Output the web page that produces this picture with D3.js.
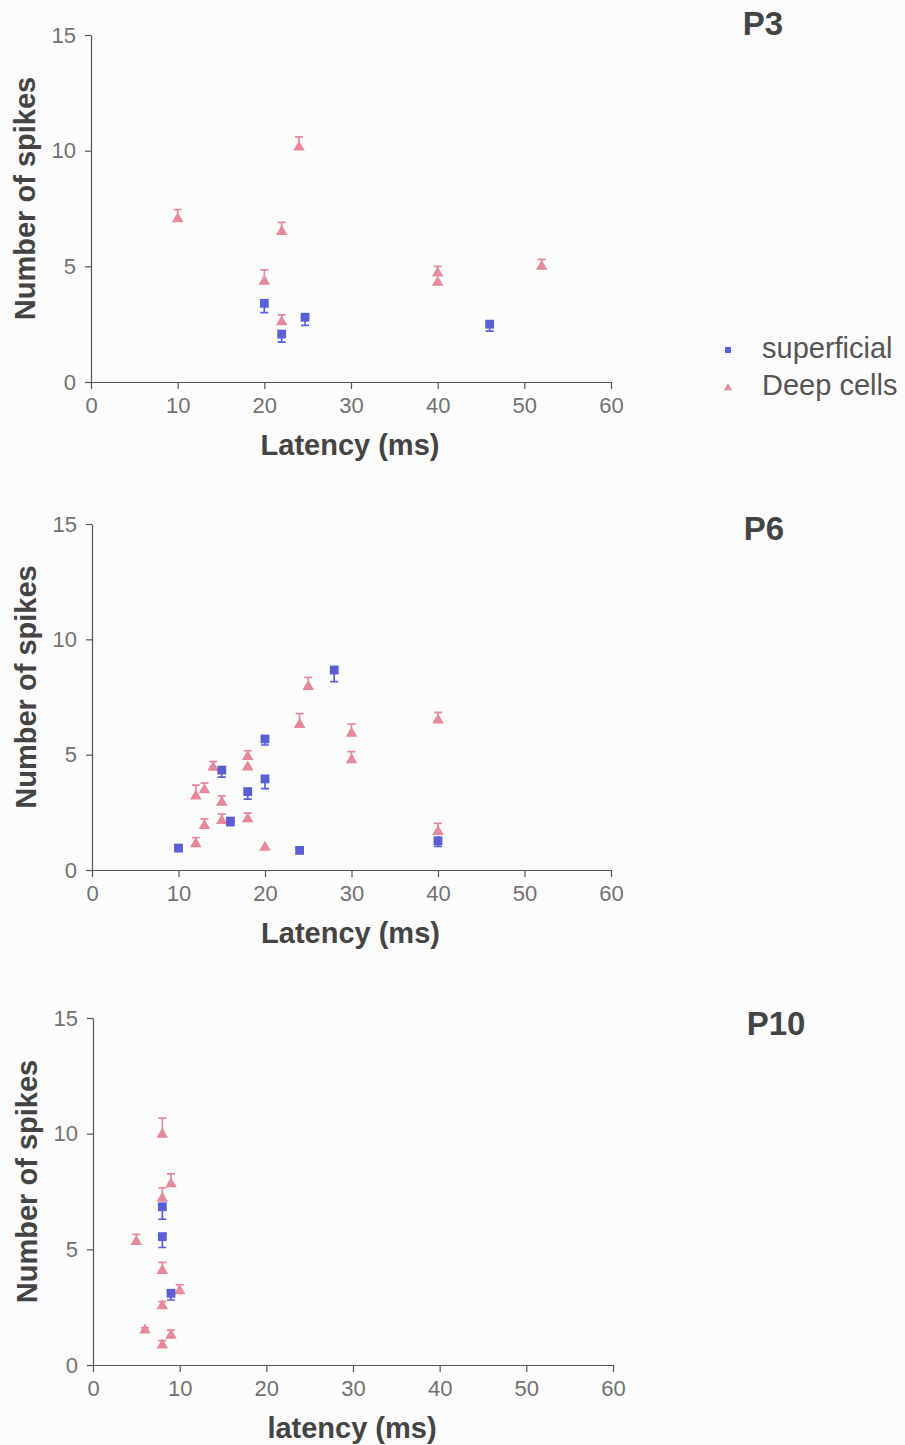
<!DOCTYPE html>
<html>
<head>
<meta charset="utf-8">
<script src="https://cdn.jsdelivr.net/npm/d3@7"></script>
<style>
  body { margin: 0; background: #fcfcfc; }
  svg { font-family: "Liberation Sans", Arial, sans-serif; }
</style>
</head>
<body>
<svg id="chart" width="905" height="1445"></svg>
<script>
// [latency ms, number of spikes, error]
const p3Superficial = [[20, 3.4, 0.4], [22, 2.07, 0.35], [24.7, 2.8, 0.35], [46, 2.5, 0.3]];
const p3Deep = [[10, 7.05, 0.4], [20, 4.35, 0.5], [22, 6.5, 0.4], [24, 10.15, 0.45], [22, 2.6, 0.3], [40, 4.7, 0.3], [40, 4.3, 0], [52, 5.0, 0.3]];

const p6Superficial = [[10, 0.95, 0], [15, 4.33, 0.3], [16, 2.12, 0.2], [18, 3.4, 0.33], [20, 5.68, 0.26], [20, 3.95, 0.42], [24, 0.85, 0], [28, 8.67, 0.5], [40, 1.27, 0.25]];
const p6Deep = [[12, 1.13, 0.27], [13, 1.92, 0.3], [12, 3.2, 0.48], [13, 3.47, 0.3], [14, 4.45, 0.25], [15, 2.93, 0.28], [15, 2.14, 0.28], [18, 4.91, 0.26], [18, 4.46, 0], [18, 2.21, 0.26], [20, 0.98, 0], [25, 7.95, 0.4], [24, 6.3, 0.48], [30, 5.92, 0.4], [30, 4.77, 0.36], [40, 6.5, 0.33], [40, 1.66, 0.36]];

const p10Superficial = [[8, 6.84, 0.54], [8, 5.55, 0.47], [9, 3.1, 0.29]];
const p10Deep = [[8, 9.97, 0.7], [9, 7.83, 0.43], [8, 7.2, 0.46], [5, 5.33, 0.32], [8, 4.08, 0.36], [10, 3.2, 0.26], [8, 2.55, 0.19], [6, 1.51, 0.1], [9, 1.28, 0.23], [8, 0.86, 0.19]];

const xTicks = [0, 10, 20, 30, 40, 50, 60];
const yTicks = [0, 5, 10, 15];
const legendLabels = ["superficial", "Deep cells"];

const panels = [
  {title: "P3", xLabel: "Latency (ms)", sup: p3Superficial, deep: p3Deep,
   x0: 91, x1: 611, y0: 382, y1: 35, titleX: 763, titleY: 35, legend: true},
  {title: "P6", xLabel: "Latency (ms)", sup: p6Superficial, deep: p6Deep,
   x0: 92, x1: 611, y0: 870, y1: 524, titleX: 764, titleY: 540, legend: false},
  {title: "P10", xLabel: "latency (ms)", sup: p10Superficial, deep: p10Deep,
   x0: 93, x1: 613, y0: 1365, y1: 1018, titleX: 776, titleY: 1035, legend: false}
];

const blue = "#5b5fd6";
const pink = "#e6899a";
const axisColor = "#555";

const svg = d3.select("#chart");

const tri = d3.symbol().type(d3.symbolTriangle).size(58);
const sq = d3.symbol().type(d3.symbolSquare).size(78);

panels.forEach(p => {
  const x = d3.scaleLinear().domain([0, 60]).range([p.x0, p.x1]);
  const y = d3.scaleLinear().domain([0, 15]).range([p.y0, p.y1]);
  const g = svg.append("g");

  const xa = g.append("g")
    .attr("transform", `translate(0,${p.y0})`)
    .call(d3.axisBottom(x).tickValues(xTicks).tickSizeInner(7).tickSizeOuter(0).tickPadding(8));
  const ya = g.append("g")
    .attr("transform", `translate(${p.x0},0)`)
    .call(d3.axisLeft(y).tickValues(yTicks).tickSizeInner(6).tickSizeOuter(0).tickPadding(9));

  [xa, ya].forEach(a => {
    a.selectAll("path, line").attr("stroke", axisColor).attr("stroke-width", 1.2);
    a.selectAll("text").attr("font-size", 22).attr("fill", "#727272")
      .attr("font-family", "Liberation Sans, Arial, sans-serif");
  });

  g.append("text")
    .attr("x", (p.x0 + p.x1) / 2 - 1).attr("y", p.y0 + 73)
    .attr("text-anchor", "middle").attr("font-size", 29).attr("font-weight", "bold")
    .attr("fill", "#444").text(p.xLabel);

  g.append("text")
    .attr("transform", `translate(${p.x0 - 56},${(p.y0 + p.y1) / 2 - 10}) rotate(-90)`)
    .attr("text-anchor", "middle").attr("font-size", 29).attr("font-weight", "bold")
    .attr("fill", "#444").text("Number of spikes");

  g.append("text")
    .attr("x", p.titleX).attr("y", p.titleY)
    .attr("text-anchor", "middle").attr("font-size", 33).attr("font-weight", "bold")
    .attr("fill", "#444").text(p.title);

  // deep cells: triangles with upward error bars
  const deep = g.append("g");
  deep.selectAll("path.eb").data(p.deep.filter(d => d[2] > 0)).join("path")
    .attr("class", "eb")
    .attr("d", d => {
      const cx = x(d[0]), top = y(d[1] + d[2]), c = y(d[1]);
      return `M${cx},${c}V${top}M${cx - 4},${top}H${cx + 4}`;
    })
    .attr("stroke", pink).attr("stroke-width", 1.7).attr("fill", "none");
  deep.selectAll("path.mk").data(p.deep).join("path")
    .attr("class", "mk")
    .attr("d", tri)
    .attr("transform", d => `translate(${x(d[0])},${y(d[1])})`)
    .attr("fill", pink);

  // superficial: squares with downward error bars
  const sup = g.append("g");
  sup.selectAll("path.eb").data(p.sup.filter(d => d[2] > 0)).join("path")
    .attr("class", "eb")
    .attr("d", d => {
      const cx = x(d[0]), bot = y(d[1] - d[2]), c = y(d[1]);
      return `M${cx},${c}V${bot}M${cx - 4},${bot}H${cx + 4}`;
    })
    .attr("stroke", blue).attr("stroke-width", 1.7).attr("fill", "none");
  sup.selectAll("path.mk").data(p.sup).join("path")
    .attr("class", "mk")
    .attr("d", sq)
    .attr("transform", d => `translate(${x(d[0])},${y(d[1])})`)
    .attr("fill", blue);

  if (p.legend) {
    const lg = g.append("g");
    const items = [{label: legendLabels[0], sym: d3.symbol().type(d3.symbolSquare).size(36)(), col: blue},
                   {label: legendLabels[1], sym: d3.symbol().type(d3.symbolTriangle).size(28)(), col: pink}];
    items.forEach((it, i) => {
      lg.append("path").attr("d", it.sym).attr("fill", it.col)
        .attr("transform", `translate(728,${350 + i * 38})`);
      lg.append("text").attr("x", 762).attr("y", 358 + i * 37)
        .attr("font-size", 29).attr("fill", "#555").text(it.label);
    });
  }
});
</script>
</body>
</html>
